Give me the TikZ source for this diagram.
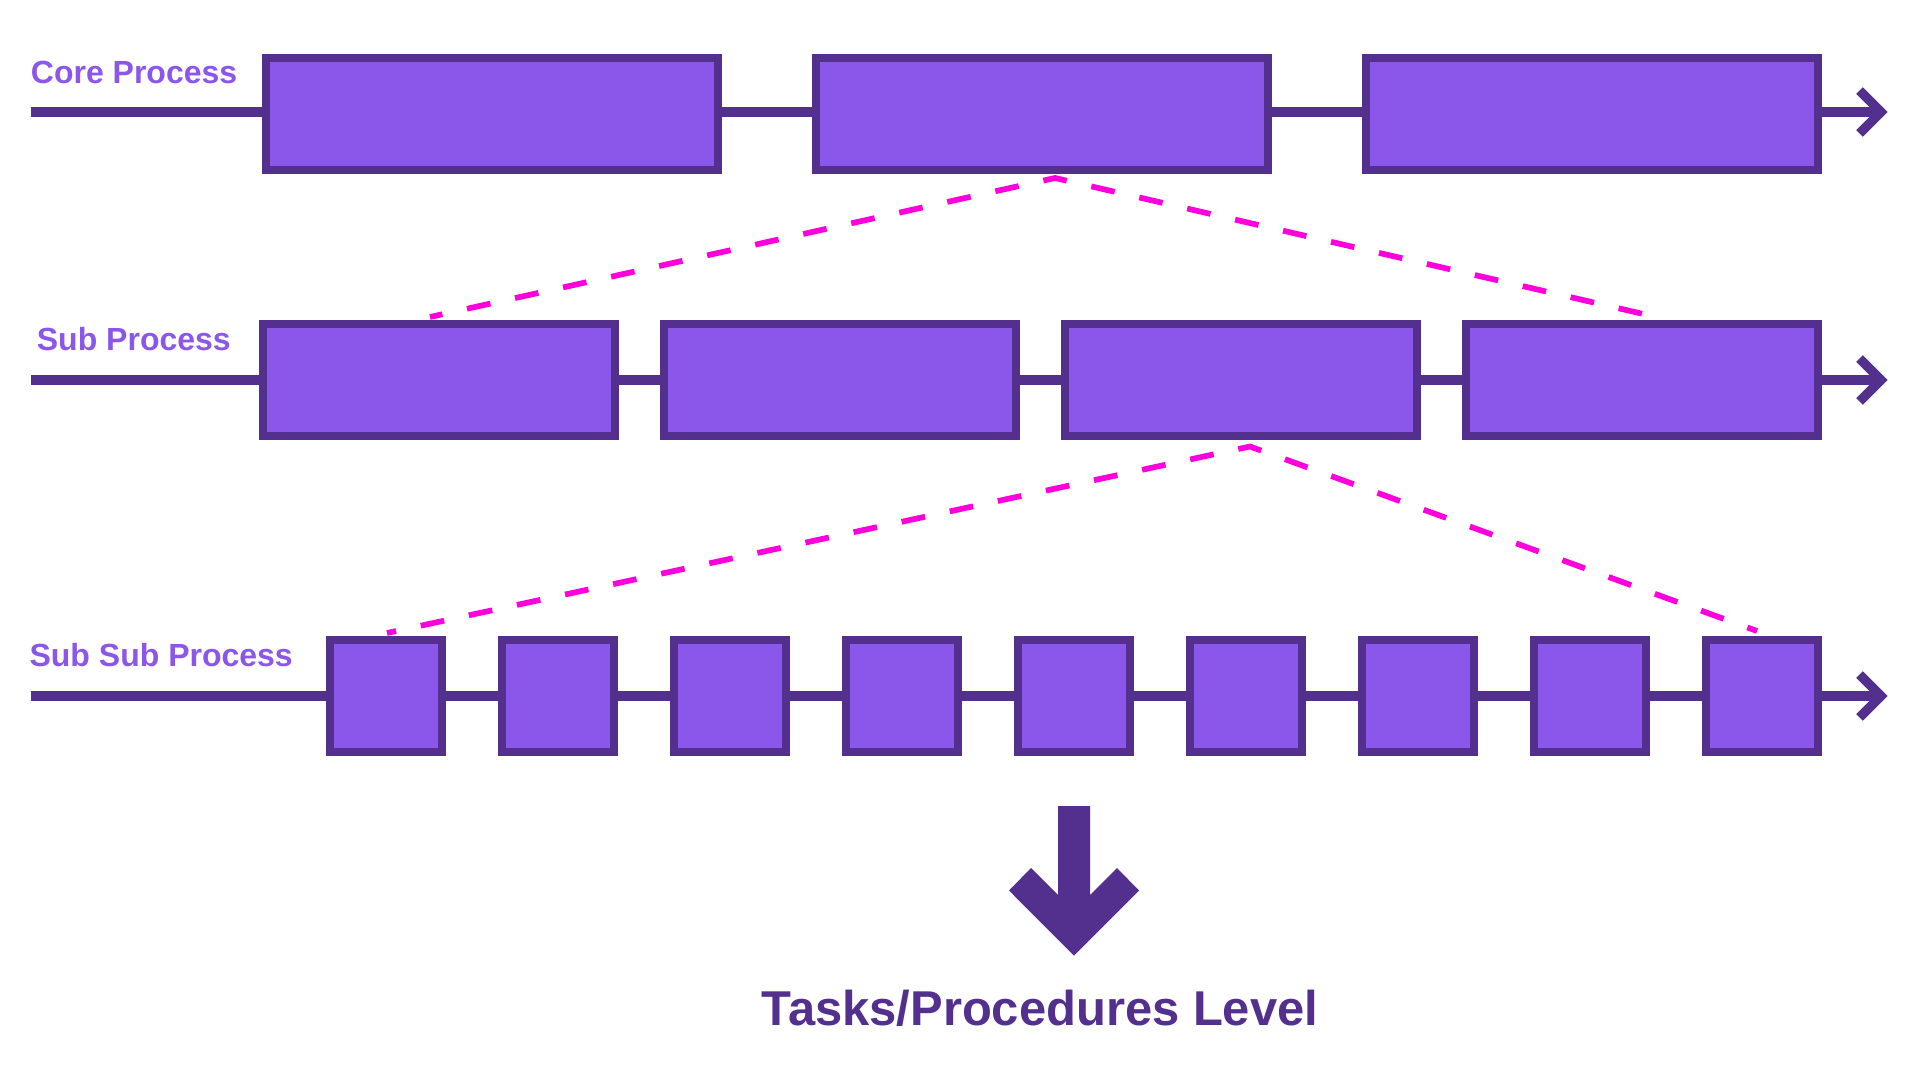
\documentclass[tikz,border=0pt]{standalone}
\usepackage{fontspec}
\setmainfont{Liberation Sans}
\definecolor{boxfill}{HTML}{8B57EB}
\definecolor{boxline}{HTML}{53308E}
\definecolor{dashpink}{HTML}{FF00DC}
\begin{document}
\begin{tikzpicture}[x=0.5pt,y=-0.5pt,
  axis/.style={draw=boxline, line width=5.3pt},
  tiphead/.style={draw=boxline, line width=4.7pt, miter limit=10},
  corebox/.style={draw=boxline, fill=boxfill, line width=4pt, minimum width=226pt, minimum height=56pt, inner sep=0pt},
  subbox/.style={corebox, minimum width=176pt},
  taskbox/.style={corebox, minimum width=56pt},
  zoomline/.style={draw=dashpink, line width=2.85pt, dash pattern=on 12pt off 12.6pt},
  lab/.style={text=boxfill, font=\fontsize{16pt}{16pt}\selectfont\bfseries, anchor=base west, inner sep=0pt},
  titletext/.style={text=boxline, font=\fontsize{24.45pt}{24.45pt}\selectfont\bfseries, anchor=base, inner sep=0pt},
  bigarrow/.style={fill=boxline}
]
\fill[white] (0,0) rectangle (1920,1080);
\path[use as bounding box] (0,0) rectangle (1920,1080);

% axes
\coordinate (cstart) at (30.5,112);
\coordinate (cend) at (1881,112);
\coordinate (sstart) at (30.5,380);
\coordinate (send) at (1881,380);
\coordinate (tstart) at (30.5,696);
\coordinate (tend) at (1881,696);
\foreach \a/\b in {cstart/cend,sstart/send,tstart/tend}{
  \draw[axis] (\a) -- (\b);
  \draw[tiphead] (\b) ++(-21.5,-21.5) -- (\b) -- ++(-21.5,21.5);
}

% boxes
\foreach \i/\x in {1/492,2/1042,3/1592}
  \node[corebox] (core\i) at (\x,114) {};
\foreach \i/\x in {1/439,2/840,3/1241,4/1642}
  \node[subbox] (sub\i) at (\x,380) {};
\foreach \i in {1,...,9}
  \node[taskbox] (task\i) at ({386+172*(\i-1)},696) {};

% labels
\node[lab] (lcore) at (30.5,83.3) {Core Process};
\node[lab] (lsub) at (36.5,350.5) {Sub Process};
\node[lab] (lsubsub) at (29.2,666.5) {Sub Sub Process};

% zoom lines
\coordinate (a1) at (430,317);
\coordinate (p1) at (1055,178);
\coordinate (b1) at (1652,316);
\draw[zoomline, dash phase=5.65pt] (a1) -- (p1) -- (b1);
\coordinate (a2) at (387,633);
\coordinate (p2) at (1250,446.5);
\coordinate (b2) at (1757,631);
\draw[zoomline, dash phase=7.35pt] (a2) -- (p2) -- (b2);

% big arrow
\fill[bigarrow] (1058,806) -- (1058,895) -- (1031,868) -- (1009,890.5) -- (1074,955.6)
  -- (1139,890.5) -- (1117,868) -- (1090,895) -- (1090,806) -- cycle;

\node[titletext] (title) at (1040,1025) {Tasks/Procedures Level};
\end{tikzpicture}
\end{document}
